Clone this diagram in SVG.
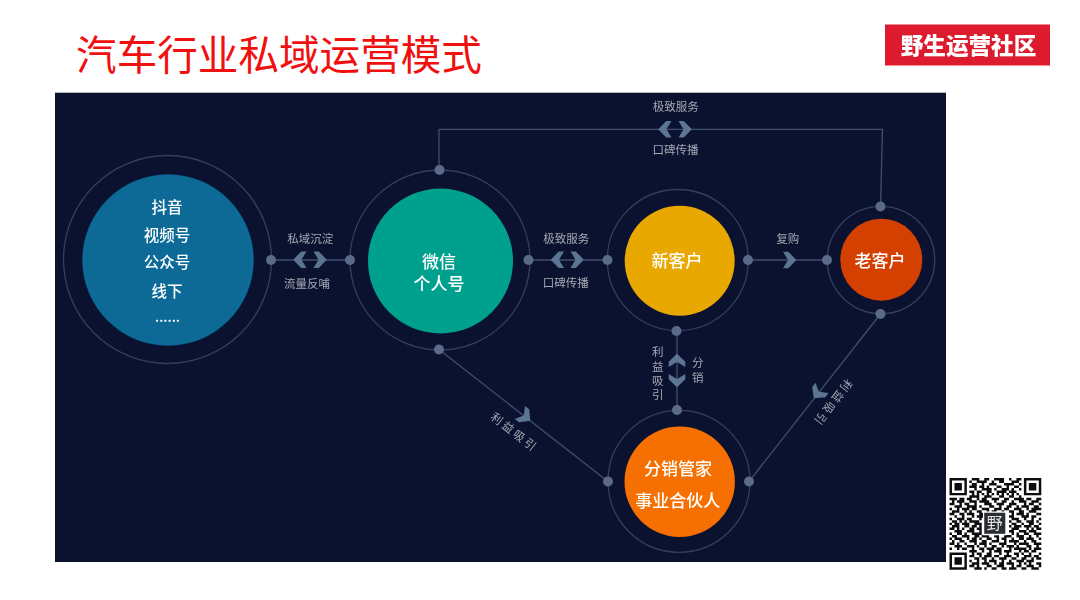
<svg xmlns="http://www.w3.org/2000/svg" width="1080" height="600" viewBox="0 0 1080 600">
<style>
text{font-family:"Noto Sans CJK SC","Noto Sans",sans-serif;text-anchor:middle;dominant-baseline:central}
.ring{fill:none;stroke:#333f5e;stroke-width:1.3}
.line{fill:none;stroke:#3f4d6c;stroke-width:1.3}
.dot{fill:#5a6b88}
.chev{fill:#5b7492}
.lab{font-size:11.5px;fill:#a5a8b3}
.node{font-size:17px;fill:#fff;font-weight:500}
.soft{filter:url(#soft)}
.softq{filter:url(#softq)}
</style>
<defs>
<path id="ch" d="M-6.5-8.300L-1.200-8.300L6.800 0L-1.200 8.300L-6.500 8.300L-1.500 0Z"/>
<filter id="soft" x="-5%" y="-5%" width="110%" height="110%"><feGaussianBlur stdDeviation="0.45"/></filter>
<filter id="softq" x="-5%" y="-5%" width="110%" height="110%"><feGaussianBlur stdDeviation="0.1"/></filter>
</defs>
<rect width="1080" height="600" fill="#fff"/>
<text id="title" x="279" y="52.5" font-size="40.6" fill="#f01010">汽车行业私域运营模式</text>
<g id="logo" class="soft">
<rect x="885" y="24.5" width="165" height="41" fill="#dc1c2e"/>
<text x="968.5" y="44.5" font-size="22.6" font-weight="900" fill="#fff">野生运营社区</text>
</g>
<rect id="panel" x="55" y="92.700" width="891" height="469.300" fill="#0a1230"/>
<g id="connectors" class="soft">
<path class="line" d="M271 260H350M528.500 260H607.500M748 260H827M677 331V410M439 170V129.300H882.500L880.500 206.500M439 349.500L608 481.500M880.500 314L749 481.500"/>
<g class="chev">
<use href="#ch" transform="translate(300 259.700) rotate(180)"/>
<use href="#ch" transform="translate(320 259.700)"/>
<use href="#ch" transform="translate(557.500 259.700) rotate(180)"/>
<use href="#ch" transform="translate(577 259.700)"/>
<use href="#ch" transform="translate(665 129.300) rotate(180)"/>
<use href="#ch" transform="translate(685 129.300)"/>
<use href="#ch" transform="translate(789.500 260)"/>
<use href="#ch" transform="translate(677 360.500) rotate(-90)"/>
<use href="#ch" transform="translate(677 380.500) rotate(90)"/>
<use href="#ch" transform="translate(525 416.500) rotate(38)"/>
<use href="#ch" transform="translate(818 393) rotate(128)"/>
</g>
<text class="lab" x="310.300" y="237.600">私域沉淀</text>
<text class="lab" x="307" y="282.600">流量反哺</text>
<text class="lab" x="566.300" y="237.600">极致服务</text>
<text class="lab" x="565.700" y="282">口碑传播</text>
<text class="lab" x="675.700" y="106">极致服务</text>
<text class="lab" x="675.500" y="148.600">口碑传播</text>
<text class="lab" x="787.700" y="237.600">复购</text>
<text class="lab" x="657.700" y="351.300">利</text>
<text class="lab" x="657.700" y="365.600">益</text>
<text class="lab" x="657.700" y="379.900">吸</text>
<text class="lab" x="657.700" y="394.300">引</text>
<text class="lab" x="697.700" y="362">分</text>
<text class="lab" x="697.700" y="376.600">销</text>
<text class="lab" letter-spacing="2.500" transform="translate(515 431.700) rotate(38)">利益吸引</text>
<text class="lab" letter-spacing="2.500" transform="translate(833.300 403.500) rotate(128)">利益吸引</text>
</g>
<g id="node-sources" class="soft">
<circle class="ring" cx="167.500" cy="259.500" r="104"/>
<circle cx="168" cy="260" r="85.700" fill="#076a97"/>
<g font-size="15.500" font-weight="500" fill="#fff">
<text x="167" y="206.200">抖音</text>
<text x="167" y="233.500">视频号</text>
<text x="167" y="261.200">公众号</text>
<text x="167" y="289.500">线下</text>
<text x="167.500" y="316" font-size="14">......</text>
</g>
</g>
<g id="node-wechat" class="soft">
<circle class="ring" cx="440" cy="260" r="90"/>
<circle cx="440.500" cy="261" r="72.500" fill="#00a08f"/>
<text class="node"><tspan x="439" y="260">微信</tspan><tspan x="439" y="281.500">个人号</tspan></text>
</g>
<g id="node-new" class="soft">
<circle class="ring" cx="677.800" cy="260" r="70.500"/>
<circle cx="679.700" cy="260.700" r="55" fill="#e8a800"/>
<text class="node" x="677" y="259.700">新客户</text>
</g>
<g id="node-old" class="soft">
<circle class="ring" cx="881" cy="260" r="53.700"/>
<circle cx="881.300" cy="259.700" r="41" fill="#d43f00"/>
<text class="node" x="880" y="259">老客户</text>
</g>
<g id="node-partner" class="soft">
<circle class="ring" cx="679" cy="481.300" r="71"/>
<circle cx="679.700" cy="481.700" r="55.200" fill="#f56f00"/>
<text class="node" x="678" y="467.300">分销管家</text>
<text class="node" x="677.700" y="499">事业合伙人</text>
</g>
<g id="dots" class="dot soft">
<circle cx="271" cy="260" r="5"/><circle cx="350" cy="260" r="5"/>
<circle cx="439.500" cy="170" r="5"/><circle cx="439" cy="349.500" r="5"/>
<circle cx="528.500" cy="260" r="5"/><circle cx="607.500" cy="260" r="5"/>
<circle cx="748" cy="260" r="5"/><circle cx="827" cy="260" r="5"/>
<circle cx="880.500" cy="206.500" r="5"/><circle cx="880.500" cy="314" r="5"/>
<circle cx="676.500" cy="331" r="5"/><circle cx="677" cy="410" r="5"/>
<circle cx="608" cy="481.500" r="5"/><circle cx="749" cy="481.500" r="5"/>
</g>
<g id="qr" class="softq" transform="translate(949.500 478) scale(2.480)">
<path fill="#111" fill-rule="evenodd" d="M0 0h7v7h-7zM1 1v5h5v-5zM2 2h3v3h-3zM30 0h7v7h-7zM31 1v5h5v-5zM32 2h3v3h-3zM0 30h7v7h-7zM1 31v5h5v-5zM2 32h3v3h-3z"/>
<path fill="none" stroke="#111" stroke-width="1" d="M9 .5h3M14 .5h2M18 .5h4M24 .5h1M27 .5h2M8 1.500h1M11 1.500h4M17 1.500h1M20 1.500h2M25 1.500h3M9 2.500h2M13 2.500h1M16 2.500h3M22 2.500h4M28 2.500h1M8 3.500h3M12 3.500h2M15 3.500h1M19 3.500h2M23 3.500h1M26 3.500h2M10 4.500h1M13 4.500h4M18 4.500h1M21 4.500h3M25 4.500h1M28 4.500h1M8 5.500h2M11 5.500h2M15 5.500h2M19 5.500h4M24 5.500h3M9 6.500h1M11 6.500h1M13 6.500h1M15 6.500h1M17 6.500h1M19 6.500h1M21 6.500h1M23 6.500h1M25 6.500h1M27 6.500h1M8 7.500h4M14 7.500h3M20 7.500h2M24 7.500h2M28 7.500h1M0 8.500h3M4 8.500h2M7 8.500h2M11 8.500h1M13 8.500h2M17 8.500h3M22 8.500h2M26 8.500h4M31 8.500h2M35 8.500h2M1 9.500h1M3 9.500h3M8 9.500h3M12 9.500h4M18 9.500h1M21 9.500h2M25 9.500h1M28 9.500h3M33 9.500h3M0 10.500h2M4 10.500h1M6 10.500h2M10 10.500h1M14 10.500h3M19 10.500h3M24 10.500h3M30 10.500h1M32 10.500h2M36 10.500h1M2 11.500h3M7 11.500h4M12 11.500h1M16 11.500h2M20 11.500h1M23 11.500h2M27 11.500h1M29 11.500h3M34 11.500h2M0 12.500h1M3 12.500h1M5 12.500h3M9 12.500h2M13 12.500h3M18 12.500h3M22 12.500h2M26 12.500h3M31 12.500h1M33 12.500h4M1 13.500h3M6 13.500h1M8 13.500h1M11 13.500h2M15 13.500h1M17 13.500h2M21 13.500h1M24 13.500h2M28 13.500h2M32 13.500h3M0 14.500h2M4 14.500h2M7 14.500h3M12 14.500h2M25 14.500h1M27 14.500h3M31 14.500h1M35 14.500h2M2 15.500h1M5 15.500h1M9 15.500h1M11 15.500h3M24 15.500h2M29 15.500h3M33 15.500h2M0 16.500h1M3 16.500h3M7 16.500h2M12 16.500h1M25 16.500h3M30 16.500h1M33 16.500h1M36 16.500h1M1 17.500h2M4 17.500h1M6 17.500h1M8 17.500h4M24 17.500h1M27 17.500h2M31 17.500h3M35 17.500h1M0 18.500h1M2 18.500h2M5 18.500h3M10 18.500h3M25 18.500h2M29 18.500h1M32 18.500h2M36 18.500h1M1 19.500h3M6 19.500h2M9 19.500h2M12 19.500h1M24 19.500h1M26 19.500h3M30 19.500h3M34 19.500h2M0 20.500h2M3 20.500h1M5 20.500h1M8 20.500h2M11 20.500h2M25 20.500h3M31 20.500h1M33 20.500h1M35 20.500h2M2 21.500h3M7 21.500h3M12 21.500h1M24 21.500h2M28 21.500h3M32 21.500h3M0 22.500h1M3 22.500h2M6 22.500h1M9 22.500h4M25 22.500h1M27 22.500h1M30 22.500h2M34 22.500h3M1 23.500h2M5 23.500h3M10 23.500h2M13 23.500h3M18 23.500h2M22 23.500h3M27 23.500h3M32 23.500h1M35 23.500h1M0 24.500h1M2 24.500h3M7 24.500h1M9 24.500h2M12 24.500h1M15 24.500h2M19 24.500h1M21 24.500h2M25 24.500h1M28 24.500h2M31 24.500h3M36 24.500h1M1 25.500h1M4 25.500h2M8 25.500h3M13 25.500h2M17 25.500h3M22 25.500h1M24 25.500h4M30 25.500h1M33 25.500h2M0 26.500h2M3 26.500h1M6 26.500h1M10 26.500h1M12 26.500h3M16 26.500h1M20 26.500h3M26 26.500h1M28 26.500h4M34 26.500h3M2 27.500h3M7 27.500h3M11 27.500h1M14 27.500h1M17 27.500h2M21 27.500h1M23 27.500h3M27 27.500h1M31 27.500h2M35 27.500h1M0 28.500h1M3 28.500h1M5 28.500h2M9 28.500h1M12 28.500h2M15 28.500h3M19 28.500h2M24 28.500h1M26 28.500h5M32 28.500h1M34 28.500h3M8 29.500h3M13 29.500h1M16 29.500h1M18 29.500h3M22 29.500h3M28 29.500h1M30 29.500h2M33 29.500h2M9 30.500h1M11 30.500h2M15 30.500h2M20 30.500h1M23 30.500h1M26 30.500h2M29 30.500h1M32 30.500h1M36 30.500h1M8 31.500h2M12 31.500h1M14 31.500h3M18 31.500h2M22 31.500h3M27 31.500h1M30 31.500h3M34 31.500h2M10 32.500h2M13 32.500h2M17 32.500h1M20 32.500h3M25 32.500h2M29 32.500h2M33 32.500h1M35 32.500h2M8 33.500h1M11 33.500h1M14 33.500h1M16 33.500h3M21 33.500h1M24 33.500h1M27 33.500h3M31 33.500h3M9 34.500h3M13 34.500h3M18 34.500h1M20 34.500h2M23 34.500h3M28 34.500h1M30 34.500h1M32 34.500h1M35 34.500h2M8 35.500h2M11 35.500h1M15 35.500h2M19 35.500h3M25 35.500h1M27 35.500h2M31 35.500h3M36 35.500h1M10 36.500h3M14 36.500h1M17 36.500h2M21 36.500h2M24 36.500h3M29 36.500h2M33 36.500h3"/>
<rect x="13.500" y="13.500" width="9.600" height="9.600" fill="#fff"/>
<rect x="14" y="14" width="8.500" height="8.500" fill="#2a2e33"/>
<text x="18.200" y="18" font-size="6.400" fill="#e6e6e6">野</text>
</g>
</svg>
